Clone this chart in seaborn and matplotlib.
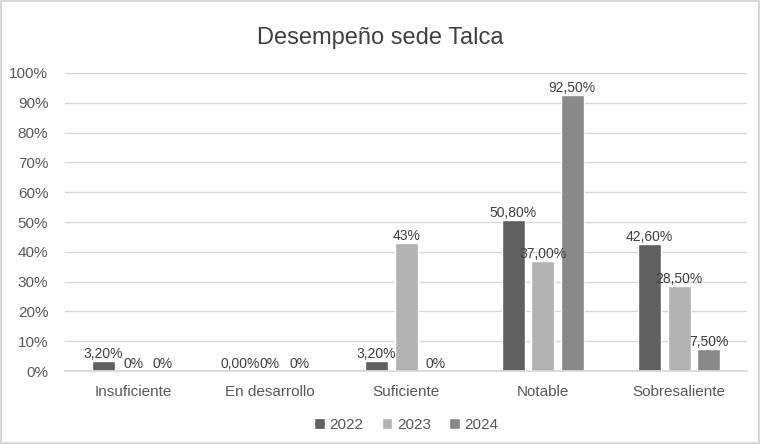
import pandas as pd
import matplotlib.pyplot as plt
from matplotlib.ticker import PercentFormatter
import seaborn as sns

# datos
categorias = ["Insuficiente", "En desarrollo", "Suficiente", "Notable", "Sobresaliente"]
anios = ["2022", "2023", "2024"]
v2022 = [0.032, 0.0, 0.032, 0.508, 0.426]
v2023 = [0.0, 0.0, 0.43, 0.37, 0.285]
v2024 = [0.0, 0.0, 0.0, 0.925, 0.075]
etiquetas = {
    "2022": ["3,20%", "0,00%", "3,20%", "50,80%", "42,60%"],
    "2023": ["0%", "0%", "43%", "37,00%", "28,50%"],
    "2024": ["0%", "0%", "0%", "92,50%", "7,50%"],
}
colores = ["#606060", "#b2b2b2", "#898989"]

df = pd.DataFrame({
    "categoria": categorias * 3,
    "anio": [a for a in anios for _ in categorias],
    "valor": v2022 + v2023 + v2024,
})

sns.set_theme(style="white")
plt.rcParams["font.family"] = ["Liberation Sans", "DejaVu Sans"]

fig = plt.figure(figsize=(7.6, 4.44), dpi=100)
fig.patch.set_edgecolor("#d9d9d9")
fig.patch.set_linewidth(1.5)
ax = fig.add_axes([0.0855, 0.1644, 0.898, 0.6712])

sns.barplot(data=df, x="categoria", y="valor", hue="anio", palette=colores,
            width=0.65, gap=0.22, ax=ax, legend=True)

for cont, anio in zip(ax.containers, anios):
    ax.bar_label(cont, labels=etiquetas[anio], padding=0, fontsize=10, color="#404040")

ax.set_ylim(0, 1)
ax.set_yticks([i / 10 for i in range(11)])
ax.yaxis.set_major_formatter(PercentFormatter(1.0, decimals=0))
ax.grid(axis="y", color="#d9d9d9", linewidth=1)
ax.set_axisbelow(True)
for s in ["top", "right", "left"]:
    ax.spines[s].set_visible(False)
ax.spines["bottom"].set_color("#d9d9d9")
ax.tick_params(axis="both", colors="#595959", labelsize=11, length=0)
ax.tick_params(axis="x", pad=10)
ax.tick_params(axis="y", pad=12)
ax.set_xlabel("")
ax.set_ylabel("")
ax.set_xlim(-0.5, 4.5)

fig.text(0.5, 0.915, "Desempeño sede Talca", ha="center", va="center",
         fontsize=17, color="#404040")

ax.legend(loc="center", bbox_to_anchor=(0.5, -0.18), ncol=3, frameon=False,
          fontsize=11, handlelength=0.7, handleheight=0.7, handletextpad=0.3,
          columnspacing=1.2, labelcolor="#595959")

fig.savefig("out.png", dpi=100)
